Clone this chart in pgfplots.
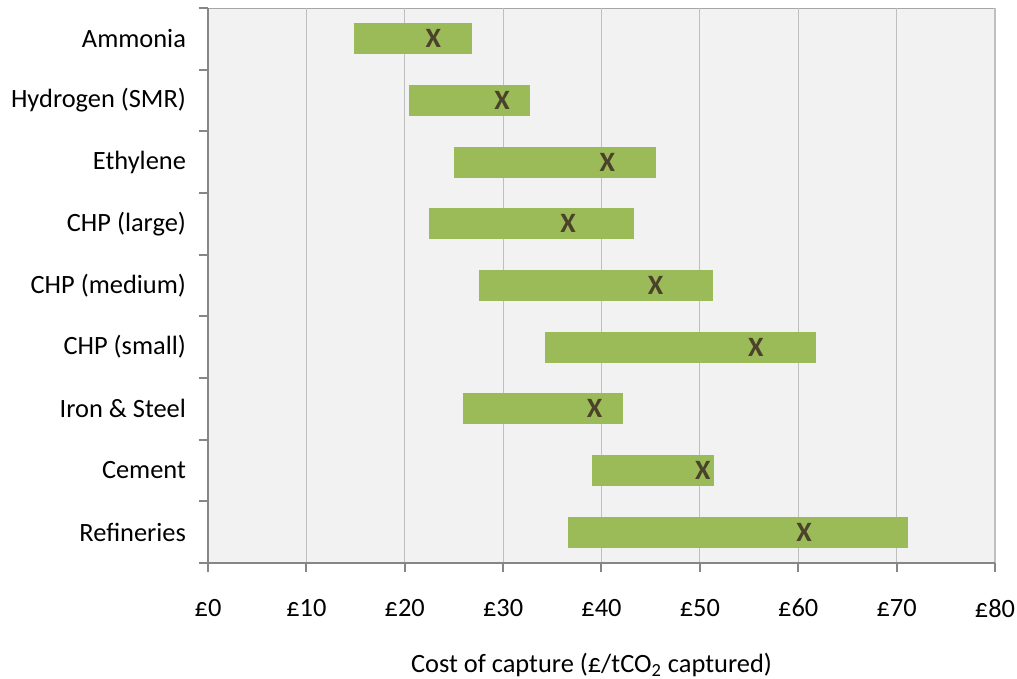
\documentclass[border=0pt]{standalone}
\usepackage{pgfplots}
\pgfplotsset{compat=1.18}
\usepackage{pgfplotstable}
\usepackage{fontspec}
\setmainfont{Carlito}
\usetikzlibrary{calc}

\definecolor{barGreen}{RGB}{155,187,89}
\definecolor{markDark}{RGB}{74,66,42}
\definecolor{plotBg}{RGB}{242,242,242}
\definecolor{gridGray}{RGB}{191,191,191}
\definecolor{axisGray}{RGB}{134,134,134}

% cost of capture range (low, high) and central estimate per sector
\pgfplotstableread{
y  low   high  mid
8  14.8  26.8  22.9
7  20.4  32.7  29.9
6  25.0  45.5  40.6
5  22.5  43.3  36.6
4  27.5  51.3  45.5
3  34.3  61.8  55.7
2  25.9  42.2  39.3
1  39.0  51.4  50.3
0  36.6  71.2  60.6
}\costs

\begin{document}
\begin{tikzpicture}
\begin{axis}[
  scale only axis,
  width=393.5pt, height=277.5pt,
  xmin=0, xmax=80, ymin=-0.5, ymax=8.5,
  axis x line*=bottom, axis y line*=left,
  axis line style={-, draw=axisGray, line width=1pt},
  axis background/.style={fill=plotBg, draw=gray!70, line width=0.5pt},
  xtick={0,10,...,80},
  xticklabels={£0,£10,£20,£30,£40,£50,£60,£70,£80},
  xmajorgrids, major grid style={gridGray, line width=0.6pt},
  ytick={-0.5,0.5,...,8.5}, yticklabels={},
  extra y ticks={0,1,...,8},
  extra y tick labels={Refineries,Cement,Iron \& Steel,CHP (small),CHP (medium),CHP (large),Ethylene,Hydrogen (SMR),Ammonia},
  extra y tick style={major tick length=0pt, yticklabel style={xshift=-7.5pt}},
  tick align=outside, major tick length=4.5pt,
  tick style={axisGray, line width=1pt},
  tick label style={font=\fontsize{13.2}{15.8}\selectfont, black},
  xticklabel style={yshift=-10pt},
  xlabel={Cost of capture (£/tCO\textsubscript{2} captured)},
  xlabel style={font=\fontsize{13.2}{15.8}\selectfont, yshift=-11pt, xshift=-5pt},
  clip=false,
]
% sector ranges drawn as thick horizontal bars
\addplot[draw=none, mark=none,
  error bars/.cd, x dir=plus, x explicit, error mark=none,
  error bar style={line width=15.5pt, barGreen}]
  table[x=low, y=y, x error expr=\thisrow{high}-\thisrow{low}] {\costs};
% central estimates
\addplot[only marks, mark=text, text mark as node=true,
  text mark={\fontsize{14}{16}\selectfont\bfseries X},
  text mark style={text=markDark}]
  table[x=mid, y=y] {\costs};
\end{axis}
\pgfresetboundingbox
\path ($(current axis.south west)+(-104pt,-58pt)$) rectangle ($(current axis.south west)+(404.5pt,281.5pt)$);
\end{tikzpicture}
\end{document}
